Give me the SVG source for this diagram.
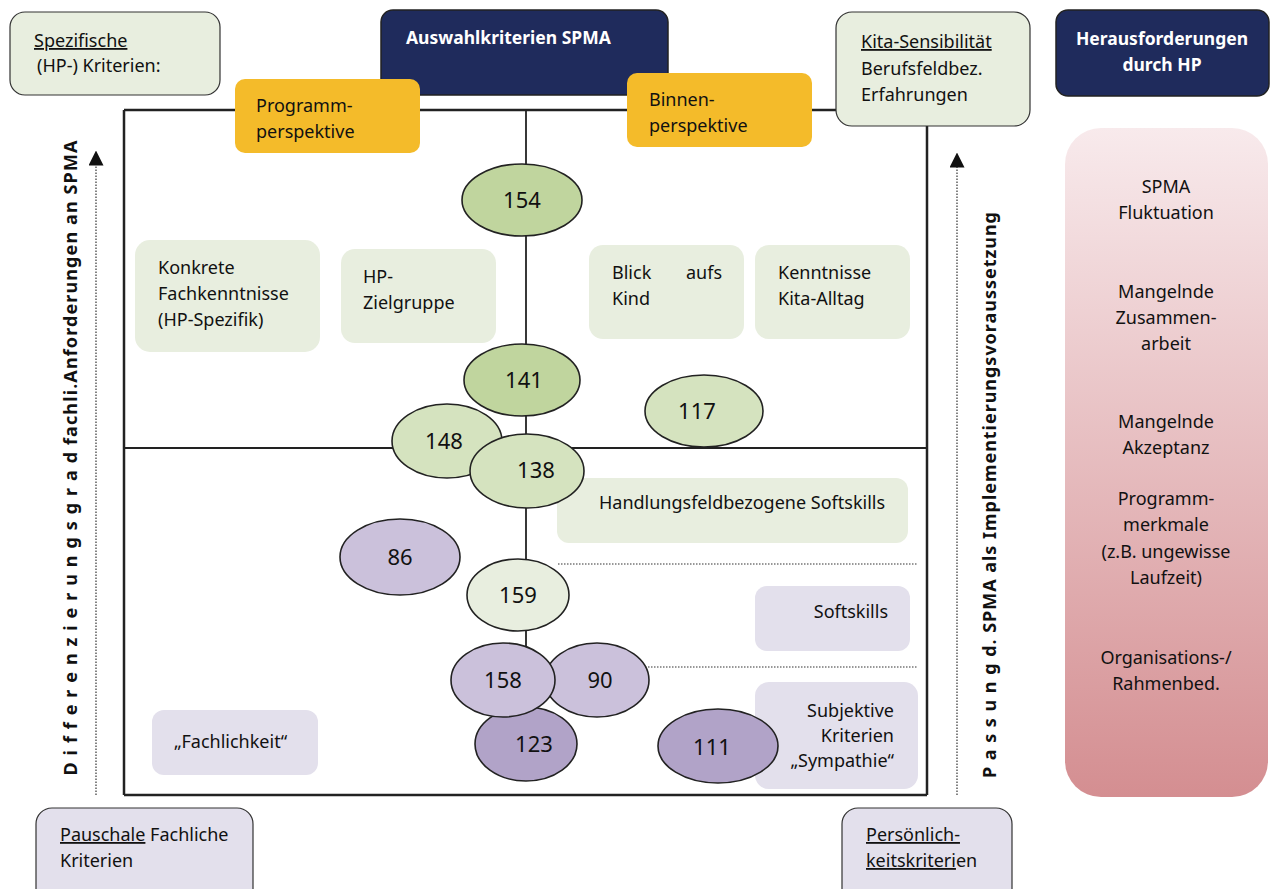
<svg xmlns="http://www.w3.org/2000/svg" width="1284" height="889" viewBox="0 0 1284 889">
  <defs>
    <linearGradient id="gradRed" x1="0" y1="0" x2="0" y2="1">
      <stop offset="0" stop-color="#f8eaec"/>
      <stop offset="1" stop-color="#d48e91"/>
    </linearGradient>
    <marker id="arrowUp" viewBox="0 0 10 10" refX="5" refY="5" markerWidth="15" markerHeight="15" orient="auto-start-reverse" markerUnits="userSpaceOnUse">
      <path d="M0,0 L10,5 L0,10 Z" fill="#111"/>
    </marker>
    <style>
      text { font-family: "Noto Sans", "Open Sans", sans-serif; fill: #111; font-size: 18px; }
      .hdr { fill: #1f2b5c; stroke: #222; stroke-width: 1.5; }
      .hdr-t { fill: #fff; font-weight: bold; font-size: 17.5px; }
      .yel { fill: #f4bb2a; }
      .grn { fill: #e8eedf; }
      .grn-s { fill: #e8eedf; stroke: #333; stroke-width: 1.2; }
      .lil { fill: #e3e0ec; }
      .lil-s { fill: #e3e0ec; stroke: #333; stroke-width: 1.2; }
      .frame { fill: none; stroke: #222; stroke-width: 2.5; }
      .ln { stroke: #222; stroke-width: 1.8; fill: none; }
      .dot { stroke: #333; stroke-width: 1.2; stroke-dasharray: 1.5 1.5; fill: none; }
      .el { stroke: #222; stroke-width: 1.6; }
      .g1 { fill: #c0d59e; }
      .g2 { fill: #d5e3bf; }
      .g3 { fill: #e8eedf; }
      .p1 { fill: #cbc1db; }
      .p2 { fill: #b1a3c8; }
      .num { font-size: 22px; text-anchor: middle; }
      .vert { font-weight: bold; font-size: 18px; text-anchor: middle; }
      .side { text-anchor: middle; font-size: 18px; }
      .u { text-decoration: underline; }
    </style>
  </defs>

  <!-- connectors: frame, axis lines, dotted separators and arrows -->
  <g id="connectors">
    <line class="frame" x1="124" y1="110" x2="836" y2="110"/>
    <line class="frame" x1="124" y1="110" x2="124" y2="795"/>
    <line class="frame" x1="124" y1="795" x2="927" y2="795"/>
    <line class="frame" x1="927" y1="126" x2="927" y2="795"/>
    <line class="ln" x1="526" y1="110" x2="526" y2="650"/>
    <line class="ln" x1="124" y1="448" x2="927" y2="448"/>
    <line class="dot" x1="558" y1="564" x2="917" y2="564"/>
    <line class="dot" x1="645" y1="667" x2="917" y2="667"/>
    <line class="dot" x1="96" y1="795" x2="96" y2="158" marker-end="url(#arrowUp)"/>
    <line class="dot" x1="957" y1="795" x2="957" y2="160" marker-end="url(#arrowUp)"/>
  </g>

  <g id="spezifische">
    <rect class="grn-s" x="10" y="12" width="210" height="83" rx="15"/>
    <text x="34" y="47" class="u">Spezifische</text>
    <text x="37" y="72">(HP-) Kriterien:</text>
  </g>

  <g id="auswahlkriterien">
    <rect class="hdr" x="381" y="10" width="287" height="85" rx="12"/>
    <text x="406" y="44" class="hdr-t">Auswahlkriterien SPMA</text>
  </g>

  <g id="programmperspektive">
    <rect class="yel" x="235" y="79" width="185" height="74" rx="10"/>
    <text x="256" y="112">Programm-</text>
    <text x="256" y="138">perspektive</text>
  </g>

  <g id="binnenperspektive">
    <rect class="yel" x="627" y="73" width="185" height="74" rx="10"/>
    <text x="649" y="106">Binnen-</text>
    <text x="649" y="132">perspektive</text>
  </g>

  <g id="kita-sensibilitaet">
    <rect class="grn-s" x="836" y="12" width="194" height="114" rx="16"/>
    <text x="861" y="48" class="u">Kita-Sensibilität</text>
    <text x="861" y="75">Berufsfeldbez.</text>
    <text x="861" y="101">Erfahrungen</text>
  </g>

  <g id="herausforderungen">
    <rect class="hdr" x="1056" y="10" width="213" height="86" rx="12"/>
    <text x="1162" y="45" class="hdr-t" text-anchor="middle">Herausforderungen</text>
    <text x="1162" y="71" class="hdr-t" text-anchor="middle">durch HP</text>
  </g>

  <g id="herausforderungen-liste">
    <rect x="1065" y="128" width="203" height="669" rx="36" fill="url(#gradRed)"/>
    <text x="1166" y="193" class="side">SPMA</text>
    <text x="1166" y="219" class="side">Fluktuation</text>
    <text x="1166" y="298" class="side">Mangelnde</text>
    <text x="1166" y="324" class="side">Zusammen-</text>
    <text x="1166" y="350" class="side">arbeit</text>
    <text x="1166" y="428" class="side">Mangelnde</text>
    <text x="1166" y="454" class="side">Akzeptanz</text>
    <text x="1166" y="505" class="side">Programm-</text>
    <text x="1166" y="531" class="side">merkmale</text>
    <text x="1166" y="558" class="side">(z.B. ungewisse</text>
    <text x="1166" y="584" class="side">Laufzeit)</text>
    <text x="1166" y="664" class="side">Organisations-/</text>
    <text x="1166" y="690" class="side">Rahmenbed.</text>
  </g>

  <g id="achse-links">
    <text class="vert" transform="translate(77,458) rotate(-90)" textLength="635" lengthAdjust="spacing">D i f f e r e n z i e r u n g s g r a d fachli.Anforderungen an SPMA</text>
  </g>

  <g id="achse-rechts">
    <text class="vert" transform="translate(996,495) rotate(-90)" textLength="566" lengthAdjust="spacing">P a s s u n g d. SPMA als Implementierungsvoraussetzung</text>
  </g>

  <g id="fachkenntnisse">
    <rect class="grn" x="135" y="240" width="185" height="112" rx="15"/>
    <text x="158" y="274">Konkrete</text>
    <text x="158" y="300">Fachkenntnisse</text>
    <text x="158" y="326">(HP-Spezifik)</text>
  </g>

  <g id="zielgruppe">
    <rect class="grn" x="341" y="249" width="155" height="94" rx="14"/>
    <text x="363" y="283">HP-</text>
    <text x="363" y="309">Zielgruppe</text>
  </g>

  <g id="blick-kind">
    <rect class="grn" x="589" y="245" width="155" height="94" rx="14"/>
    <text x="612" y="279">Blick</text>
    <text x="686" y="279">aufs</text>
    <text x="612" y="305">Kind</text>
  </g>

  <g id="kita-alltag">
    <rect class="grn" x="755" y="245" width="155" height="94" rx="14"/>
    <text x="778" y="279">Kenntnisse</text>
    <text x="778" y="305">Kita-Alltag</text>
  </g>

  <g id="handlungsfeld">
    <rect class="grn" x="557" y="478" width="351" height="65" rx="12"/>
    <text x="742" y="509" text-anchor="middle">Handlungsfeldbezogene Softskills</text>
  </g>

  <g id="softskills">
    <rect class="lil" x="755" y="586" width="155" height="65" rx="12"/>
    <text x="888" y="618" text-anchor="end">Softskills</text>
  </g>

  <g id="subjektive-kriterien">
    <rect class="lil" x="755" y="682" width="163" height="107" rx="14"/>
    <text x="894" y="717" text-anchor="end">Subjektive</text>
    <text x="894" y="742" text-anchor="end">Kriterien</text>
    <text x="894" y="767" text-anchor="end">„Sympathie“</text>
  </g>

  <g id="fachlichkeit">
    <rect class="lil" x="152" y="710" width="166" height="65" rx="12"/>
    <text x="174" y="748">„Fachlichkeit“</text>
  </g>

  <g id="pauschale">
    <rect class="lil-s" x="36" y="808" width="217" height="100" rx="16"/>
    <text x="60" y="841"><tspan class="u">Pauschale</tspan> Fachliche</text>
    <text x="60" y="867">Kriterien</text>
  </g>

  <g id="persoenlichkeit">
    <rect class="lil-s" x="842" y="808" width="170" height="100" rx="16"/>
    <text x="866" y="841" class="u">Persönlich-</text>
    <text x="866" y="867"><tspan class="u">keitskriteri</tspan>en</text>
  </g>

  <!-- numbered ellipses -->
  <g id="n154"><ellipse class="el g1" cx="522" cy="200" rx="60" ry="36"/><text class="num" x="522" y="208">154</text></g>
  <g id="n141"><ellipse class="el g1" cx="522" cy="380" rx="58" ry="36"/><text class="num" x="524" y="388">141</text></g>
  <g id="n117"><ellipse class="el g2" cx="704" cy="411" rx="59" ry="36"/><text class="num" x="697" y="419">117</text></g>
  <g id="n148"><ellipse class="el g2" cx="447" cy="441" rx="55" ry="37"/><text class="num" x="444" y="449">148</text></g>
  <g id="n138"><ellipse class="el g2" cx="527" cy="471" rx="57" ry="37"/><text class="num" x="536" y="478">138</text></g>
  <g id="n86"><ellipse class="el p1" cx="400" cy="557" rx="60" ry="38"/><text class="num" x="400" y="565">86</text></g>
  <g id="n159"><ellipse class="el g3" cx="518" cy="595" rx="51" ry="36"/><text class="num" x="518" y="603">159</text></g>
  <g id="n90"><ellipse class="el p1" cx="597" cy="680" rx="52" ry="37"/><text class="num" x="600" y="688">90</text></g>
  <g id="n123"><ellipse class="el p2" cx="526" cy="744" rx="51" ry="37"/><text class="num" x="534" y="752">123</text></g>
  <g id="n158"><ellipse class="el p1" cx="503" cy="680" rx="52" ry="37"/><text class="num" x="503" y="688">158</text></g>
  <g id="n111"><ellipse class="el p2" cx="718" cy="746" rx="60" ry="37"/><text class="num" x="712" y="755">111</text></g>
</svg>
